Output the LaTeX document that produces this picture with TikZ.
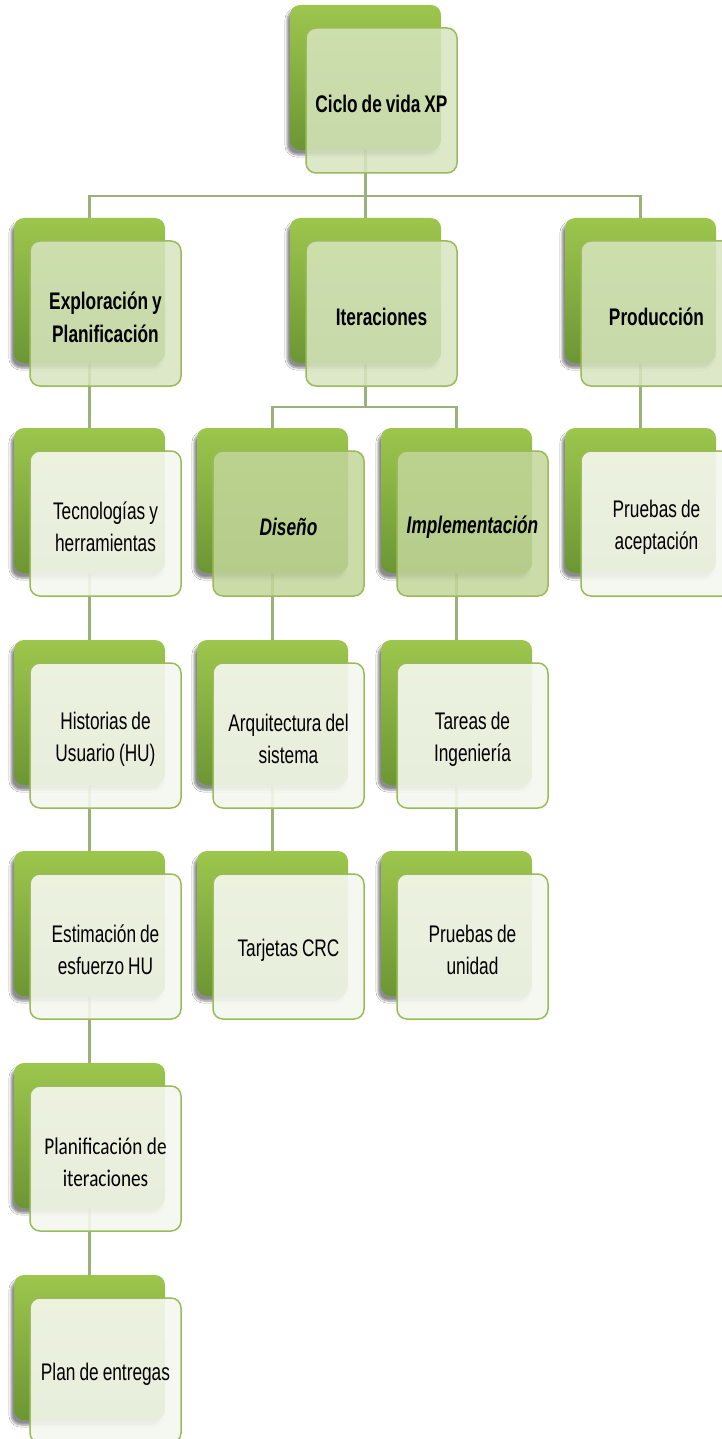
\documentclass[tikz,border=0pt]{standalone}
\usepackage{fontspec}
\setmainfont[FakeStretch=0.72]{Liberation Sans}
\newfontfamily\calfont[FakeStretch=0.8]{Carlito}
\usetikzlibrary{shadows.blur}
\pgfdeclarelayer{bg}
\pgfsetlayers{bg,main}
\definecolor{gtop}{HTML}{9DC64D}
\definecolor{gbot}{HTML}{6B9634}
\definecolor{gborder}{HTML}{9BBB59}
\definecolor{fone}{HTML}{D8E5BF}
\definecolor{ftwo}{HTML}{C3D69B}
\definecolor{fleaf}{HTML}{F5F8EF}
\definecolor{conncol}{HTML}{9BB07A}
\newcommand\xpfont[1]{\fontsize{24}{#1}\selectfont}
\tikzset{
  backbox/.style={minimum width=151pt, minimum height=145pt, rounded corners=10pt,
    top color=gtop, bottom color=gbot, draw=none, inner sep=0pt,
    blur shadow={shadow xshift=-3pt, shadow yshift=-5pt, shadow opacity=45, shadow blur steps=6}},
  frontbox/.style={minimum width=151pt, minimum height=145pt, rounded corners=10pt,
    draw=gborder, line width=1.5pt, fill opacity=0.85, text opacity=1, align=center,
    inner sep=2pt, text width=144pt, font=\xpfont{32}},
  lvlone/.style={frontbox, fill=fone, font=\bfseries\xpfont{33}},
  lvltwo/.style={frontbox, fill=ftwo, font=\bfseries\itshape\xpfont{32}},
  leaf/.style={frontbox, fill=fleaf, fill opacity=0.9},
  conn/.style={draw=conncol, line width=2.2pt}
}
\newcommand\xpnode[5]{%
  \node[backbox] (#1) at (#2+75.5,#3+72.5) {};
  \node[#4] (#1f) at (#2+91.5,#3+95.5) {};
  \node[#4, draw=none, fill=none] (#1t) at (#2+91.5,#3+99) {\spaceskip=4pt\relax #5};
}
\begin{document}
\begin{tikzpicture}[x=1pt,y=-1pt]
\useasboundingbox (0,0) rectangle (722,1439);
\xpnode{root}{290}{5}{lvlone}{Ciclo de vida XP}
\xpnode{explo}{14}{218}{lvlone}{Exploración y\\Planificación}
\xpnode{iter}{290}{218}{lvlone}{Iteraciones}
\xpnode{prod}{565}{218}{lvlone}{Producción}
\xpnode{tecno}{14}{428}{leaf}{Tecnologías y\\herramientas}
\xpnode{diseno}{197}{428}{lvltwo}{Diseño}
\xpnode{impl}{381}{428}{lvltwo}{Implementación}
\xpnode{pacep}{565}{428}{leaf}{Pruebas de\\aceptación}
\xpnode{hist}{14}{640}{leaf}{Historias de\\Usuario (HU)}
\xpnode{arq}{197}{640}{leaf}{Arquitectura del\\sistema}
\xpnode{tareas}{381}{640}{leaf}{Tareas de\\Ingeniería}
\xpnode{estim}{14}{851}{leaf}{Estimación de\\esfuerzo HU}
\xpnode{tarj}{197}{851}{leaf}{Tarjetas CRC}
\xpnode{punid}{381}{851}{leaf}{Pruebas de\\unidad}
\xpnode{planit}{14}{1063}{leaf}{\calfont\fontsize{24}{35}\selectfont\spaceskip=4.6pt\relax Planificación de\\iteraciones}
\xpnode{planent}{14}{1275}{leaf}{Plan de entregas}
\begin{pgfonlayer}{bg}
  \fill[white] (0,0) rectangle (722,1439);
  \coordinate (b0) at (365.5,196);
  \coordinate (b1) at (365.5,407);
  \draw[conn] (root.center) -- (b0);
  \draw[conn] (b0) -| (explo.center);
  \draw[conn] (b0) -| (prod.center);
  \draw[conn] (b0) -- (iter.center);
  \draw[conn] (iter.center) -- (b1);
  \draw[conn] (b1) -| (diseno.center);
  \draw[conn] (b1) -| (impl.center);
  \draw[conn] (explo.center) -- (tecno.center) -- (hist.center) -- (estim.center) -- (planit.center) -- (planent.center);
  \draw[conn] (diseno.center) -- (arq.center) -- (tarj.center);
  \draw[conn] (impl.center) -- (tareas.center) -- (punid.center);
  \draw[conn] (prod.center) -- (pacep.center);
\end{pgfonlayer}
\end{tikzpicture}
\end{document}
